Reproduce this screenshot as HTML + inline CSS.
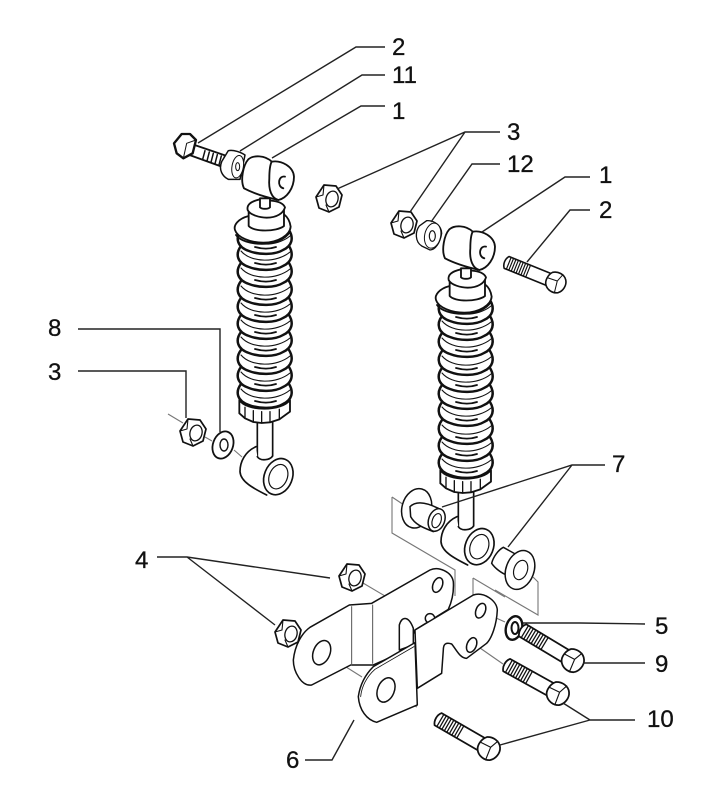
<!DOCTYPE html>
<html><head><meta charset="utf-8"><style>
html,body{margin:0;padding:0;background:#fff;width:720px;height:807px;overflow:hidden}
svg{display:block}
text{font-family:"Liberation Sans",sans-serif;font-size:24px;fill:#111;stroke:#111;stroke-width:.3}
</style></head><body>
<svg width="720" height="807" viewBox="0 0 720 807" xmlns="http://www.w3.org/2000/svg">
<defs>
<g id="coil" fill="#fff" stroke="#111">
 <path stroke-width="2.5" d="M-24,-14C-30,-6-28,3-16,7C-6,11 10,11 18,6C27,2 29,-6 24,-14"/>
 <path stroke-width="1.1" fill="none" d="M-24,-9C-14,3 12,3 25,-8"/>
 <path stroke-width="1.8" fill="none" d="M-10,3C-3,5 5,5 11,3"/>
</g>
<g id="shock" stroke="#111" stroke-width="1.9" fill="#fff" stroke-linecap="round" stroke-linejoin="round">
 <use href="#coil" transform="translate(265,398)"/><use href="#coil" transform="translate(265,381)"/>
 <use href="#coil" transform="translate(265,364)"/><use href="#coil" transform="translate(265,346)"/>
 <use href="#coil" transform="translate(265,329)"/><use href="#coil" transform="translate(265,312)"/>
 <use href="#coil" transform="translate(265,295)"/><use href="#coil" transform="translate(265,277)"/>
 <use href="#coil" transform="translate(265,260)"/><use href="#coil" transform="translate(265,244)"/>
 <g transform="translate(150,120) scale(.3333)" stroke-width="5.5">
  <path d="M296,288C265,296 250,315 255,330C262,352 300,368 340,368C385,368 420,345 422,320C420,305 415,293 402,283Z"/>
  <path fill="none" d="M258,345C280,378 390,386 420,335"/>
  <path d="M296,270V318H402V265Z" stroke="none"/>
  <path fill="none" d="M296,272V318C310,336 380,336 402,318V268"/>
  <path d="M330,238C300,245 290,255 293,270C300,285 330,293 350,293C380,293 400,280 405,262C400,250 385,245 372,243Z"/>
  <path d="M330,235V262C335,268 355,268 360,262V235Z"/>
  <path d="M282,205C270,180 280,135 295,118C310,105 345,105 365,125L385,240C350,232 310,220 282,205Z"/>
  <path d="M365,125C395,120 430,140 432,170C432,205 410,235 385,240C365,235 355,210 358,175C358,150 360,135 365,125Z"/>
  <path fill="none" d="M405,170C385,165 380,200 400,205"/>
 </g>
 <g transform="translate(150,320) scale(.3333)" stroke-width="5">
  <path d="M322,300V415H368V300Z" stroke="none"/>
  <path fill="none" d="M322,305V410M368,408V300"/>
  <path stroke="none" d="M318,380L322,410C332,425 360,420 368,408L410,420L350,525C310,505 272,485 270,455C270,425 285,395 318,380Z"/>
  <path fill="none" d="M318,380C285,395 270,425 270,455C272,485 310,505 350,525"/>
  <path fill="none" d="M322,410C332,425 360,420 368,408"/>
  <ellipse cx="385" cy="470" rx="42" ry="56" transform="rotate(22 385 470)"/>
  <ellipse cx="385" cy="470" rx="27" ry="38" transform="rotate(22 385 470)" stroke-width="3.5"/>
  <path stroke-width="5.5" d="M268,240V280L285,295L310,306L335,309L360,307L388,298L420,275V240C395,275 290,275 268,240Z"/>
  <path fill="none" stroke-width="4" d="M285,262V295M310,272V306M335,275V309M360,275V307M388,268V298"/>
 </g>
</g>
<g id="nut" stroke="#111" stroke-width="1.7" fill="#fff" stroke-linejoin="round" stroke-linecap="round">
 <path d="M-5,-13L7,-12L13,-3L10,9L0,14L-10,10L-13,-1Z"/>
 <ellipse cx="3" cy="1" rx="6" ry="8" transform="rotate(15 3 1)" stroke-width="1.3"/>
 <path fill="none" stroke-width="1.1" d="M-5,-13L-6,-3M-13,-1L-6,-3M0,14L-3,7"/>
</g>
<g id="bolt" stroke="#111" stroke-width="5.5" fill="#fff" stroke-linejoin="round" stroke-linecap="round">
 <path d="M-180,-22H-25V22H-180C-190,10-190,-10-180,-22Z"/>
 <path fill="none" stroke-width="4" d="M-172,-22V22M-163,-22V22M-154,-22V22M-145,-22V22M-136,-22V22M-127,-22V22M-118,-22V22M-109,-22V22M-100,-22V22"/>
 <path d="M-20,-28C-5,-38 20,-38 32,-20C42,-5 38,18 24,30C8,40 -15,36 -26,20C-34,8 -32,-15 -20,-28Z"/>
 <path fill="none" stroke-width="3.5" d="M-28,-4L6,-6L16,-34M6,-6L12,36"/>
</g>
</defs>

<rect width="720" height="807" fill="#fff"/>

<g fill="none" stroke="#777" stroke-width="1.1">
 <path d="M392,497V533L455,570V596M392,497L404,505"/>
 <path d="M473,578V597M473,578L505,597"/>
 <path d="M533,577L538,582V615L495,590"/>
 <path d="M168,414L183,423M205,437L212,441M234,450L242,457"/>
 <path d="M363,583L385,596M299,638L310,644M327,655L362,677M390,693L417,707M443,587L452,594M485,613L505,622M480,648L503,664"/>
</g>

<use href="#shock"/>
<use href="#shock" transform="translate(201,70)"/>

<g stroke="#111" stroke-width="2" fill="#fff" stroke-linejoin="round" stroke-linecap="round" transform="translate(150,120) scale(.3333)">
 <path stroke-width="5.5" d="M125,72L225,106L215,140L110,102Z"/>
 <path fill="none" stroke-width="4.5" d="M165,92L158,118M178,96L171,123M190,100L183,127M202,104L195,131M214,108L207,135"/>
 <path stroke-width="7" d="M95,42L120,42L138,60L128,100L100,115L80,100L72,70Z"/>
 <path fill="none" stroke-width="3" d="M110,70L138,60M110,70L100,115"/>
 <path stroke-width="4.5" d="M235,92C250,88 275,98 285,105L270,178L235,178C218,170 205,150 215,125Z"/>
 <ellipse cx="263" cy="140" rx="17" ry="34" transform="rotate(10 263 140)" stroke-width="3"/>
 <ellipse cx="263" cy="140" rx="6" ry="12" stroke-width="3"/>
</g>
<use href="#nut" transform="translate(329,198)"/>
<use href="#nut" transform="translate(193,432)"/>
<g stroke="#111" fill="#fff" stroke-width="1.8">
 <ellipse cx="223" cy="445" rx="10" ry="14" transform="rotate(20 223 445)"/>
 <ellipse cx="224" cy="445" rx="4" ry="6" stroke-width="1.4"/>
</g>

<use href="#nut" transform="translate(404,224)"/>
<g stroke="#111" stroke-width="1.8" fill="#fff" transform="translate(380,200) scale(.3333)">
 <path stroke-width="4" d="M140,62C165,60 185,80 185,100C180,130 165,150 150,150L125,138C105,125 105,95 118,78Z"/>
 <ellipse cx="158" cy="107" rx="24" ry="38" transform="rotate(12 158 107)" stroke-width="3"/>
 <ellipse cx="157" cy="108" rx="9" ry="16" stroke-width="3.5"/>
</g>
<use href="#bolt" transform="translate(555,282) rotate(22) scale(.29)"/>

<g stroke="#111" fill="#fff" stroke-linejoin="round" transform="translate(370,400) scale(.3333)" stroke-width="4.5">
 <ellipse cx="140" cy="325" rx="44" ry="60" transform="rotate(15 140 325)"/>
 <path d="M120,320C140,300 175,310 205,325L190,395C165,385 135,375 122,350Z"/>
 <ellipse cx="200" cy="360" rx="24" ry="35" transform="rotate(20 200 360)"/>
 <ellipse cx="200" cy="362" rx="13" ry="22" transform="rotate(20 200 362)" stroke-width="3.5"/>
 <path d="M400,442C385,450 370,470 365,490C375,505 395,520 410,525L450,470Z"/>
 <ellipse cx="450" cy="510" rx="42" ry="60" transform="rotate(20 450 510)"/>
 <ellipse cx="452" cy="510" rx="20" ry="30" transform="rotate(20 452 510)" stroke-width="3.5"/>
</g>

<g stroke="#111" fill="#fff" stroke-linejoin="round" stroke-linecap="round" stroke-width="4.5" transform="translate(260,550) scale(.3333)">
 <path d="M335,160L510,60C535,48 575,65 580,95C582,125 578,150 565,178L465,240L440,300L340,345H272L155,405C125,410 100,365 100,330C105,285 125,250 150,232L268,165Z"/>
 <path stroke="#555" stroke-width="3" fill="none" d="M275,170V345M338,165V340"/>
 <path d="M418,300V225C425,200 445,195 460,235V285L418,300Z"/>
 <ellipse cx="185" cy="308" rx="25" ry="38" transform="rotate(22 185 308)"/>
 <ellipse cx="533" cy="105" rx="14" ry="23" transform="rotate(22 533 105)"/>
 <ellipse cx="510" cy="205" rx="14" ry="14"/>
 <path d="M465,240L640,135C670,125 710,150 712,180C710,225 695,265 680,280L620,325C600,325 590,300 575,282C555,275 550,285 550,300L545,370L472,415L465,240Z"/>
 <path d="M340,350L465,278L472,465L350,517C320,510 298,480 295,440C300,405 315,375 340,350Z"/>
 <path fill="none" stroke-width="2.5" d="M302,440C305,410 320,380 345,358L462,290"/>
 <ellipse cx="378" cy="420" rx="25" ry="38" transform="rotate(22 378 420)"/>
 <ellipse cx="662" cy="182" rx="14" ry="23" transform="rotate(22 662 182)"/>
 <ellipse cx="635" cy="285" rx="14" ry="23" transform="rotate(22 635 285)"/>
</g>
<use href="#nut" transform="translate(352,577)"/>
<use href="#nut" transform="translate(288,633)"/>

<g stroke="#111" fill="#fff" stroke-width="2">
 <ellipse cx="514" cy="628" rx="8" ry="12" transform="rotate(15 514 628)" stroke-width="2.4"/>
 <ellipse cx="515" cy="628" rx="3.5" ry="6"/>
</g>
<use href="#bolt" transform="translate(572,660) rotate(31) scale(.32)"/>
<use href="#bolt" transform="translate(557,693) rotate(29) scale(.32)"/>
<use href="#bolt" transform="translate(488,748) rotate(30) scale(.32)"/>

<g fill="none" stroke="#222" stroke-width="1.4">
 <path d="M385,47H356L198,143"/>
 <path d="M385,75H362L240,151"/>
 <path d="M385,106H361L272,158"/>
 <path d="M500,132H465L337,189M465,132L410,212"/>
 <path d="M500,164H472L431,222"/>
 <path d="M590,177H565L482,232"/>
 <path d="M590,210H570L527,262"/>
 <path d="M78,329H220V432"/>
 <path d="M78,371H186V418"/>
 <path d="M605,465H572L442,507M572,465L508,547"/>
 <path d="M157,557H187L330,578M187,557L275,625"/>
 <path d="M645,624L580,623H523"/>
 <path d="M645,663H583"/>
 <path d="M635,720H590L563,703M590,720L500,745"/>
 <path d="M305,760H332L354,720"/>
</g>

<text x="392" y="55">2</text>
<text x="392" y="83">11</text>
<text x="392" y="119">1</text>
<text x="507" y="140">3</text>
<text x="507" y="172">12</text>
<text x="599" y="183">1</text>
<text x="599" y="218">2</text>
<text x="48" y="336">8</text>
<text x="48" y="380">3</text>
<text x="612" y="472">7</text>
<text x="135" y="568">4</text>
<text x="655" y="634">5</text>
<text x="655" y="672">9</text>
<text x="647" y="727">10</text>
<text x="286" y="768">6</text>
</svg>
</body></html>
